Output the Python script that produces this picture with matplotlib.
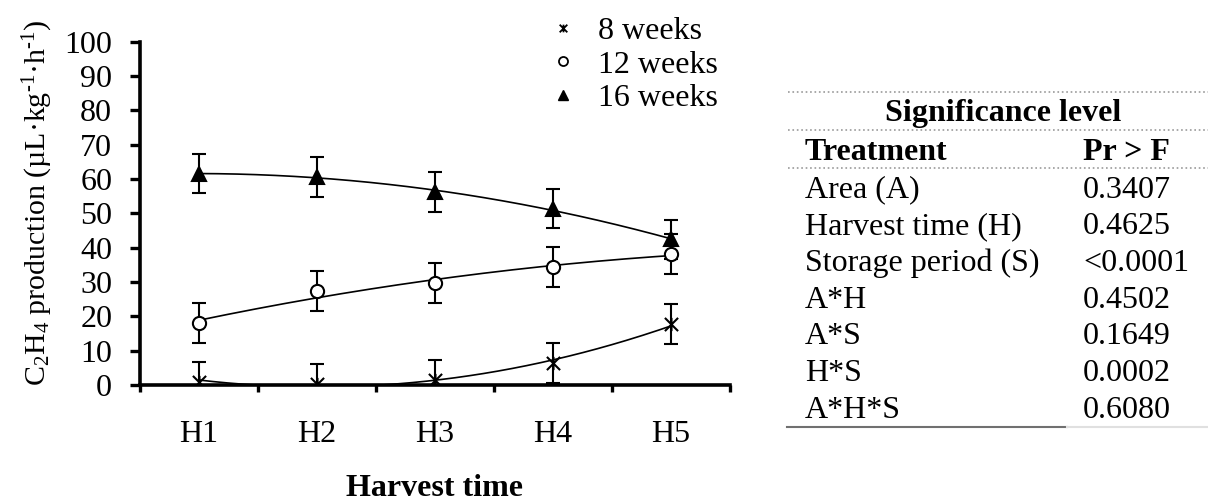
#!/usr/bin/env python

import numpy as np
import matplotlib
matplotlib.use("Agg")
import matplotlib.pyplot as plt
from matplotlib.lines import Line2D
from matplotlib.path import Path

plt.rcParams['font.family'] = ['Liberation Serif', 'DejaVu Serif']
plt.rcParams['mathtext.fontset'] = 'custom'
plt.rcParams['mathtext.rm'] = 'Liberation Serif'
plt.rcParams['mathtext.it'] = 'Liberation Serif:italic'
plt.rcParams['mathtext.bf'] = 'Liberation Serif:bold'

harvest = ["H1", "H2", "H3", "H4", "H5"]
weeks8 = [1.0, 0.3, 1.5, 6.3, 17.7]
weeks12 = [18.1, 27.3, 29.6, 34.4, 38.1]
weeks16 = [61.6, 60.5, 56.2, 51.4, 42.4]
err = [5.8, 5.8, 5.8, 5.8, 5.8]

treatments = ["Area (A)", "Harvest time (H)", "Storage period (S)",
              "A*H", "A*S", "H*S", "A*H*S"]
pvalues = ["0.3407", "0.4625", "<0.0001", "0.4502", "0.1649", "0.0002", "0.6080"]

FS = 23
W, H = 1208, 501

# x with a vertical stroke, like the spreadsheet "star" marker
STAR = Path([(-1, -1), (1, 1), (-1, 1), (1, -1), (0, -1), (0, 1)],
            [Path.MOVETO, Path.LINETO, Path.MOVETO, Path.LINETO,
             Path.MOVETO, Path.LINETO])


def fx(px):
    return px / W


def fy(py):
    return 1 - py / H


def series(ax, vals, marker, face):
    x = np.arange(1, len(vals) + 1)
    ax.errorbar(x, vals, yerr=err, fmt='none', ecolor='black',
                elinewidth=1.5, capsize=5, capthick=1.5, zorder=3)
    # quadratic trend line through the means
    coef = np.polyfit(x, vals, 2)
    xs = np.linspace(1, len(vals), 200)
    ax.plot(xs, np.polyval(coef, xs), color='black', lw=1.2, zorder=2)
    ax.plot(x, vals, ls='none', marker=marker, ms=9.5, mfc=face,
            mec='black', mew=1.5, zorder=4)


fig = plt.figure(figsize=(W / 100, H / 100), dpi=100)
ax = fig.add_axes([fx(140), fy(385), fx(730) - fx(140), fy(41.7) - fy(385)])

series(ax, weeks8, STAR, 'black')
series(ax, weeks12, 'o', 'white')
series(ax, weeks16, '^', 'black')

ax.set_xlim(0.5, 5.5)
ax.set_ylim(0, 100)
for s in ['top', 'right']:
    ax.spines[s].set_visible(False)
for s in ['left', 'bottom']:
    ax.spines[s].set_linewidth(2.6)
    ax.spines[s].set_zorder(5)

ax.set_yticks(np.arange(0, 101, 10))
ax.tick_params(axis='y', direction='out', length=7, width=2.4, pad=13,
               labelsize=FS)
ax.set_xticks(np.arange(0.5, 5.6, 1))
ax.set_xticklabels([])
ax.set_xticks(np.arange(1, 6), minor=True)
ax.set_xticklabels(harvest, minor=True)
ax.tick_params(axis='x', which='major', direction='out', length=5, width=2.4)
ax.tick_params(axis='x', which='minor', length=0, pad=25, labelsize=FS)

fig.text(fx(38), fy(203),
         r'C$_2$H$_4$ production (µL·kg$^{\text{-1}}$·h$^{\text{-1}}$)',
         rotation=90, ha='center', va='center', fontsize=21.5)
fig.text(fx(435), fy(488), "Harvest time", ha='center', va='center',
         fontsize=FS, fontweight='bold')

handles = [
    Line2D([], [], ls='none', marker=STAR, ms=5.5, mec='black', mew=1.3),
    Line2D([], [], ls='none', marker='o', ms=6.5, mfc='white', mec='black', mew=1.3),
    Line2D([], [], ls='none', marker='^', ms=6.5, mfc='black', mec='black'),
]
fig.legend(handles, ["8 weeks", "12 weeks", "16 weeks"], loc='upper left',
           bbox_to_anchor=(fx(548), fy(17)), frameon=False, fontsize=FS,
           handlelength=0.95, handletextpad=0.62, labelspacing=0.12,
           borderpad=0, borderaxespad=0)

# significance table
def hline(y, x0, x1, color, ls='-', lw=1.0):
    fig.add_artist(Line2D([fx(x0), fx(x1)], [fy(y), fy(y)], color=color,
                          ls=ls, lw=lw))

hline(92, 788, 1208, '#9a9a9a', ':', 1.2)
hline(130, 788, 1208, '#9a9a9a', ':', 1.2)
hline(168, 788, 1208, '#9a9a9a', ':', 1.2)
hline(427, 787, 1067, '#707070', '-', 1.5)
hline(427, 1067, 1208, '#e0e0e0', '-', 1.5)

fig.text(fx(1003), fy(114), "Significance level", ha='center', va='center',
         fontsize=FS, fontweight='bold')
fig.text(fx(805), fy(152), "Treatment", ha='left', va='center',
         fontsize=FS, fontweight='bold')
fig.text(fx(1083), fy(152), "Pr > F", ha='left', va='center',
         fontsize=FS, fontweight='bold')
for i, (t, p) in enumerate(zip(treatments, pvalues)):
    y = 190 + i * 36.7
    fig.text(fx(805), fy(y), t, ha='left', va='center', fontsize=FS)
    fig.text(fx(1083), fy(y), p, ha='left', va='center', fontsize=FS)

fig.savefig("out.png", dpi=100)
